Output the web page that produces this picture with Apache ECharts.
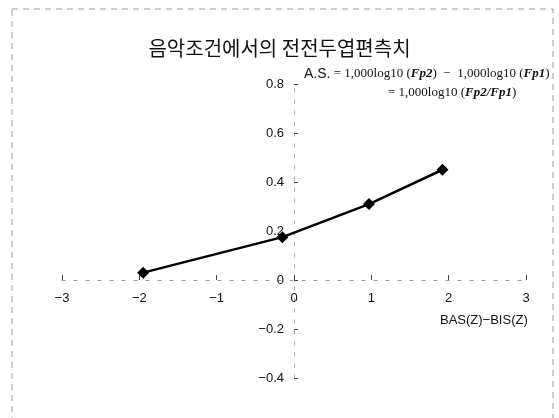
<!DOCTYPE html>
<html>
<head>
<meta charset="utf-8">
<script src="https://cdn.jsdelivr.net/npm/echarts@6/dist/echarts.min.js"></script>
<style>
  html, body { margin: 0; padding: 0; background: #fff; }
  #chart { width: 559px; height: 418px; }
</style>
</head>
<body>
<div id="chart"></div>
<script>
// 전전두엽편측치 (음악조건)
const xValues = [-1.95, -0.15, 0.97, 1.92];
const asValues = [0.03, 0.175, 0.31, 0.45];
const titleText = "음악조건에서의 전전두엽편측치";
const xAxisName = "BAS(Z)\u2212BIS(Z)";

const seriesData = xValues.map((x, i) => [x, asValues[i]]);

// grid box; axes are shifted into the middle with offset
const gridLeft = 62, gridTop = 84, gridW = 464, gridH = 294;

const chart = echarts.init(document.getElementById("chart"));
chart.setOption({
  animation: false,
  backgroundColor: "#fff",
  title: {
    text: titleText,
    left: "center",
    top: 33,
    textStyle: {
      fontFamily: "Noto Sans CJK KR",
      fontSize: 20,
      fontWeight: "normal",
      color: "#111",
    },
  },
  grid: {
    left: gridLeft,
    top: gridTop,
    width: gridW,
    height: gridH,
  },
  xAxis: {
    type: "value",
    min: -3,
    max: 3,
    interval: 1,
    position: "bottom",
    offset: -(gridH * 0.4 / 1.2),
    axisLine: {
      onZero: false,
      lineStyle: { color: "#999", type: [3, 9], width: 1 },
    },
    axisTick: {
      show: true,
      inside: true,
      length: 5,
      lineStyle: { color: "#444" },
    },
    axisLabel: {
      margin: 12,
      fontFamily: "Liberation Sans",
      fontSize: 13,
      color: "#111",
      formatter: (v) => (v < 0 ? "\u2212" + Math.abs(v) : String(v)),
    },
    splitLine: { show: false },
  },
  yAxis: {
    type: "value",
    min: -0.4,
    max: 0.8,
    interval: 0.2,
    position: "left",
    offset: -(gridW / 2),
    axisLine: {
      show: true,
      onZero: false,
      lineStyle: { color: "#aaa", type: [3, 8], width: 1 },
    },
    axisTick: {
      show: true,
      inside: true,
      length: 4,
      lineStyle: { color: "#444" },
    },
    axisLabel: {
      margin: 10,
      fontFamily: "Liberation Sans",
      fontSize: 13,
      color: "#111",
      formatter: (v) => {
        const r = Math.round(v * 10) / 10;
        if (r === 0) return "0";
        return (r < 0 ? "\u2212" : "") + Math.abs(r).toFixed(1);
      },
    },
    splitLine: { show: false },
  },
  series: [
    {
      type: "line",
      data: seriesData,
      symbol: "diamond",
      symbolSize: 12,
      showSymbol: true,
      itemStyle: { color: "#000" },
      lineStyle: { color: "#000", width: 2.5 },
    },
  ],
  graphic: [
    {
      type: "rect",
      shape: { x: 12, y: 9, width: 541, height: 414 },
      style: { fill: "none", stroke: "#999", lineWidth: 1, lineDash: [6, 5] },
      silent: true,
    },
    {
      type: "text",
      left: 304,
      top: 67,
      style: {
        text: "{a|A.S.} {s|= 1,000log10 (}{b|Fp2}{s|)  \u2212  1,000log10 (}{b|Fp1}{s|)}",
        rich: {
          a: { fontFamily: "Liberation Sans", fontSize: 14, fill: "#111" },
          s: { fontFamily: "Liberation Serif", fontSize: 13, fill: "#111" },
          b: { fontFamily: "Liberation Serif", fontSize: 13, fontStyle: "italic", fontWeight: "bold", fill: "#111" },
        },
      },
    },
    {
      type: "text",
      left: 388,
      top: 86,
      style: {
        text: "{s|= 1,000log10 (}{b|Fp2/Fp1}{s|)}",
        rich: {
          s: { fontFamily: "Liberation Serif", fontSize: 13, fill: "#111" },
          b: { fontFamily: "Liberation Serif", fontSize: 13, fontStyle: "italic", fontWeight: "bold", fill: "#111" },
        },
      },
    },
    {
      type: "text",
      left: 440,
      top: 314,
      style: {
        text: xAxisName,
        fontFamily: "Liberation Sans",
        fontSize: 13,
        fill: "#111",
      },
    },
  ],
});
</script>
</body>
</html>
